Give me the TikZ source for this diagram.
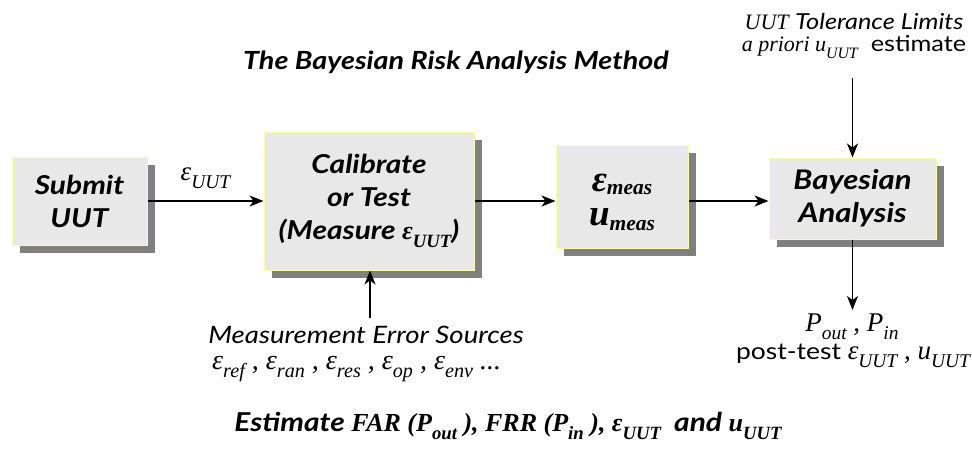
\documentclass[tikz,border=0pt]{standalone}
\usepackage{fontspec}
\setmainfont{Lato}[FakeStretch=1.15]
\newfontfamily\tm{Liberation Serif}
\usetikzlibrary{arrows.meta,shadows}
\definecolor{boxfill}{RGB}{232,232,232}
\definecolor{boxedge}{RGB}{255,255,170}
\definecolor{shade}{RGB}{128,128,128}
% lowered, reduced subscript for text-mode formulas
\newcommand\lowsub[1]{\raisebox{-0.3em}{\scalebox{0.72}{#1}}}
% subscript for the large measurement symbols
\newcommand\bigsub[2][4pt]{\raisebox{-#1}{\scalebox{0.58}{#2}}}
\tikzset{
  block/.style={draw=boxedge, line width=1pt, fill=boxfill, align=center,
    inner sep=0pt, font=\fontsize{26}{33}\selectfont\bfseries\itshape,
    drop shadow={shadow xshift=8pt, shadow yshift=-8pt, fill=shade, opacity=1}},
  flow/.style={line width=1.4pt, -{Stealth[length=14pt,width=11pt,inset=4pt]}},
  note/.style={align=center, inner sep=0pt},
  formula/.style={font=\fontsize{27}{30}\selectfont\tm\itshape}
}
\begin{document}
\begin{tikzpicture}[x=1pt,y=-1pt]
\useasboundingbox (0,0) rectangle (972,466);

% process boxes
\node[block, minimum width=135pt, minimum height=88pt] (sub) at (79.5,201) {Submit\\UUT};
\node[block, minimum width=210pt, minimum height=138pt] (cal) at (369,201)
  {Calibrate\\or Test\\(Measure {\tm ε\lowsub{UUT}})};
\node[block, minimum width=132pt, minimum height=103pt,
  label={[align=center, yshift=-6pt, font=\fontsize{37}{34}\selectfont\tm\bfseries\itshape]center:
    ε\bigsub[3pt]{meas}\\u\bigsub[5pt]{meas}}] (mea) at (622,196.5) {};
\node[block, font=\fontsize{27}{33}\selectfont\bfseries\itshape,
  minimum width=167pt, minimum height=81pt] (bay) at (852.5,198.5) {Bayesian\\Analysis};

% titles and notes
\node[note, font=\fontsize{25}{28}\selectfont\bfseries\itshape] (ttl) at (456,62)
  {The Bayesian Risk Analysis Method};
\node[note, font=\fontsize{22}{22}\selectfont] (tol) at (854,36)
  {{\tm\itshape UUT} {\itshape Tolerance Limits}\\{\tm\itshape a priori u\lowsub{UUT}}\ \ estimate};
\node[note, font=\fontsize{24}{26}\selectfont\itshape] (mes) at (366,335) {Measurement Error Sources};
\node[note, formula, font=\fontsize{28}{30}\selectfont\tm\itshape, anchor=west] (src) at (212,369)
  {ε\lowsub{ref} , ε\lowsub{ran} , ε\lowsub{res} , ε\lowsub{op} , ε\lowsub{env} ...};
\node[note, formula] (pio) at (852,327)
  {P\lowsub{out} , P\lowsub{in}};
\node[note, font=\fontsize{23}{26}\selectfont] (pst) at (853,356)
  {post-test {\tm\fontsize{27}{30}\selectfont\itshape ε\lowsub{UUT} , u\lowsub{UUT}}};
\node[note, font=\fontsize{26}{28}\selectfont\bfseries\itshape] (est) at (508,426)
  {Estimate {\tm FAR (P\lowsub{out} ), FRR (P\lowsub{in} ), ε\lowsub{UUT}}\ \ and {\tm u\lowsub{UUT}}};

% connector end points
\coordinate (tolend) at (852.5,78);
\coordinate (outend) at (852.5,310);
\coordinate (srcend) at (370,318);

% flow arrows
\draw[flow] (sub.east) -- node[above=8pt, formula] {ε\lowsub{UUT}} (sub.east -| cal.west);
\draw[flow] (cal.east) -- (cal.east -| mea.west);
\draw[flow] (mea.east |- cal.east) -- (cal.east -| bay.west);
\draw[flow] (tolend) -- (bay.north);
\draw[flow] (bay.south) -- (outend);
\draw[flow] (srcend) -- (srcend |- cal.south);
\end{tikzpicture}
\end{document}
